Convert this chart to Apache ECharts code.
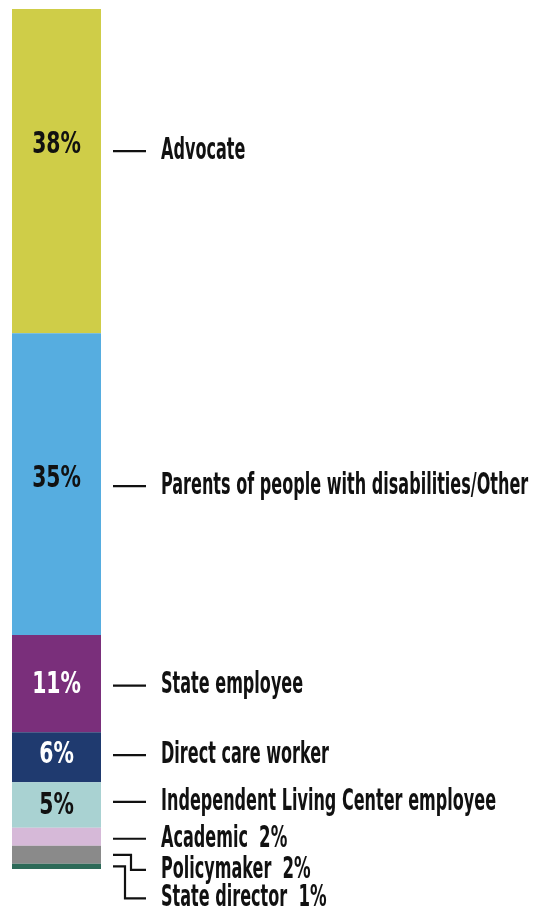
<!DOCTYPE html>
<html>
<head>
<meta charset="utf-8">
<script src="https://cdn.jsdelivr.net/npm/echarts@6/dist/echarts.min.js"></script>
<style>
html,body{margin:0;padding:0;background:#fff;}
#chart{width:534px;height:917px;}
</style>
</head>
<body>
<div id="chart"></div>
<script>
// ---- data ----
const categories = ['Advocate', 'Parents of people with disabilities/Other', 'State employee', 'Direct care worker', 'Independent Living Center employee', 'Academic', 'Policymaker', 'State director'];
const shares = [37.7, 35.1, 11.3, 5.8, 5.3, 2.1, 2.1, 0.6];
const pctLabels = ['38%', '35%', '11%', '6%', '5%', '2%', '2%', '1%'];

// ---- style ----
const colors = ['#cfcd48', '#56ade0', '#7a2f7b', '#1f3a6f', '#a9d2d2', '#d6b9d8', '#8a8a8a', '#2d6a58'];
const insideShow = [true, true, true, true, true, false, false, false];
const insideColor = ['#111', '#111', '#fff', '#fff', '#111', '#111', '#111', '#111'];
const insideShift = [-26, -5, 1, -2, 1, 0, 0, 0];
const labelShift = [-20, 2, 2, -2, -3, 2, 15, 32];
const elbowX = [0, 0, 0, 0, 0, 0, 30, 24];
const FONT = '"DejaVu Sans Condensed", "DejaVu Sans", sans-serif';

const chart = echarts.init(document.getElementById('chart'), null, {renderer: 'canvas'});

const cum = [];
shares.reduce((acc, v, i) => { cum[i] = acc; return acc + v; }, 0);

const barSeries = categories.map((name, i) => ({
  type: 'bar',
  name: name,
  stack: 'total',
  barWidth: '100%',
  data: [shares[i]],
  itemStyle: {color: colors[i]},
  silent: true
}));

const annot = {
  type: 'custom',
  name: 'annotations',
  data: shares.map((v, i) => [0, v]),
  silent: true,
  z: 10,
  renderItem: function (params, api) {
    const i = params.dataIndex;
    const top = api.coord([0, cum[i]]);
    const bot = api.coord([0, cum[i] + shares[i]]);
    const band = api.size([1, 0])[0];
    const cx = top[0];
    const right = cx + band / 2;
    const cy = (top[1] + bot[1]) / 2;
    const children = [];
    if (insideShow[i]) {
      children.push({
        type: 'text',
        x: cx,
        y: cy + insideShift[i],
        scaleX: 0.73,
        style: {
          text: pctLabels[i],
          fontFamily: FONT,
          fontWeight: 'bold',
          fontSize: 31,
          fill: insideColor[i],
          align: 'center',
          verticalAlign: 'middle'
        }
      });
    }
    const ly = cy + labelShift[i];
    const x1 = right + 12, x2 = right + 45;
    let pts;
    if (elbowX[i]) {
      const ex = right + elbowX[i];
      pts = [[x1, cy], [ex, cy], [ex, ly], [x2, ly]];
    } else {
      pts = [[x1, ly], [x2, ly]];
    }
    children.push({
      type: 'polyline',
      shape: {points: pts},
      style: {stroke: '#111', lineWidth: 2.2, fill: null}
    });
    const txt = insideShow[i] ? categories[i] : categories[i] + '  {p|' + pctLabels[i] + '}';
    children.push({
      type: 'text',
      x: right + 60,
      y: ly,
      scaleX: 0.595,
      style: {
        text: txt,
        fontFamily: FONT,
        fontWeight: 'bold',
        fontSize: 30,
        fill: '#111',
        align: 'left',
        verticalAlign: 'middle',
        rich: {
          p: {fontFamily: FONT, fontWeight: 'bold', fontSize: 31, fill: '#111'}
        }
      }
    });
    return {type: 'group', children: children};
  }
};

chart.setOption({
  animation: false,
  grid: {left: 12, top: 9, width: 89, height: 860},
  xAxis: {type: 'category', data: ['Role'], show: false},
  yAxis: {type: 'value', min: 0, max: 100, inverse: true, show: false},
  series: barSeries.concat([annot])
});
</script>
</body>
</html>
